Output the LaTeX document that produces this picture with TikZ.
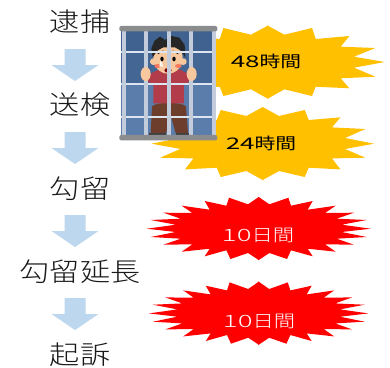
\documentclass[tikz,border=0pt]{standalone}
\usepackage{fontspec}
\setmainfont{Noto Sans CJK JP}
\newfontfamily\stagecjk[FakeStretch=1.16]{Noto Sans CJK JP Light}
\newfontfamily\goldcjk[FakeStretch=1.3]{Noto Sans CJK JP}
\newfontfamily\redcjk[FakeStretch=1.25]{Noto Sans CJK JP Light}
\definecolor{burstgold}{HTML}{FFC000}
\definecolor{burstred}{HTML}{FF0000}
\definecolor{flowblue}{HTML}{BDD7EE}
\definecolor{pane}{HTML}{3F6290}
\definecolor{panelow}{HTML}{5A7DAC}
\definecolor{rail}{HTML}{C3CCDA}
\definecolor{crossbar}{HTML}{DDE5F0}
\definecolor{capbar}{HTML}{8A8C8E}
\definecolor{skin}{HTML}{F7C89E}
\definecolor{shirt}{HTML}{B23C4A}
\definecolor{trousers}{HTML}{6E3E2C}
\tikzset{
  x=1pt, y=-1pt,
  stage/.style={font=\stagecjk\fontsize{26}{26}\selectfont, text=black!90, inner sep=0pt},
  gold label/.style={font=\goldcjk\fontsize{16}{16}\selectfont, text=black, inner sep=0pt},
  red label/.style={font=\redcjk\fontsize{17}{17}\selectfont, text=white, inner sep=0pt},
  flowarrow/.pic={
    \fill[flowblue] (-10.5,0)--(10.5,0)--(10.5,16)--(23.5,16)--(0,32)--(-23.5,16)--(-10.5,16)--cycle;
  }
}
% Half outlines of the bursts, mirrored about their vertical axis
\newcommand{\goldtop}{(-.5,-36.3)--(0,-36.3)--(16.7,-27.3)--(44.3,-34)--(48,-23)--(81.7,-26)--(73,-15.3)--(107.7,-14)--(86.3,-5.3)--(117,0)--(86.3,5.7)--(107.7,14.7)--(73,16.3)--(81.7,26.3)--(48,24.7)--(44.3,34)--(16.7,27.3)--(0,36.7)--(-.5,36.7)--cycle}
\newcommand{\goldlow}{(-.5,-36.7)--(0,-36.7)--(16.3,-27.7)--(42,-33.7)--(46,-23.7)--(77.7,-26.3)--(69.3,-16.3)--(102.7,-14.7)--(82.3,-5.7)--(111.3,0)--(82.3,5.3)--(102.7,14)--(69.3,14.7)--(77.7,25.7)--(46,24)--(42,33.3)--(16.3,27.3)--(0,36.3)--(-.5,36.3)--cycle}
\newcommand{\redburst}{(-.5,-31)--(0,-31)--(10.7,-23.7)--(29.7,-30.3)--(32.3,-22.3)--(54,-27)--(49,-18.3)--(77,-22.3)--(66.3,-15)--(95.3,-15.3)--(78,-9.3)--(108,-8)--(83,-3.3)--(112,.7)--(83,4)--(108,9)--(78,10.7)--(95.3,16.7)--(66.3,16.3)--(77,23.7)--(49,20.7)--(54,28.3)--(32.3,22.3)--(28.3,31)--(10.7,25)--(0,32)--(-.5,32)--cycle}
\begin{document}
\begin{tikzpicture}
\useasboundingbox (0,0) rectangle (390,367);
\fill[white] (0,0) rectangle (390,367);

% Stages of the procedure
\node[stage] (arrest) at (80,22) {逮捕};
\node[stage] (referral) at (80,105) {送検};
\node[stage] (detention) at (80,189) {勾留};
\node[stage] (extension) at (80,272) {勾留延長};
\node[stage] (indictment) at (80,355) {起訴};
\pic at (75,49) {flowarrow};
\pic at (75,132) {flowarrow};
\pic at (75,215) {flowarrow};
\pic at (75,298) {flowarrow};

% Bursts showing the time limits
\foreach \s in {1,-1}{
  \fill[burstgold,shift={(267.7,62)},xscale=\s] \goldtop;
  \fill[burstgold,shift={(262.7,143.7)},xscale=\s] \goldlow;
  \fill[burstred,shift={(258.7,228)},xscale=\s] \redburst;
  \fill[burstred,shift={(258.7,312.7)},xscale=.98*\s] \redburst;
}

% Man behind the bars, drawn in a 3:1 local grid
\begin{scope}[shift={(110,0)},x=.3333pt,y=-.3333pt]
  \fill[pane] (34,90) rectangle (316,408);
  \fill[panelow] (34,256) rectangle (316,408);
  \fill[pane!85!panelow] (34,158) rectangle (316,248);
  % legs and shoes
  \fill[trousers] (126,320) .. controls (130,305) and (222,305) .. (228,320) -- (234,400) -- (197,400) -- (182,345) -- (168,400) -- (122,400) -- cycle;
  \fill[black!75] (118,398) rectangle (168,405);
  \fill[black!75] (197,398) rectangle (238,405);
  % torso and arms
  \fill[shirt] (100,232) -- (148,208) -- (208,208) -- (255,232) -- (240,246) -- (222,250) -- (222,310) -- (130,310) -- (130,250) -- (112,246) -- cycle;
  % head
  \fill[skin] (174,175) ellipse (44 and 46);
  \fill[skin] (130,185) circle (10);
  \fill[skin] (220,185) circle (10);
  % hair
  \fill[black!85] (128,172) -- (124,145) -- (134,122) -- (150,110) -- (165,120) -- (185,108) -- (208,113) -- (224,135) -- (226,172) -- (212,152) -- (195,142) -- (160,142) -- (142,152) -- cycle;
  % eyes, mouth, tear
  \fill[black] (156,177) ellipse (5 and 7);
  \fill[black] (192,177) ellipse (5 and 7);
  \draw[black,line width=.6pt] (143,162) -- (160,152) (205,162) -- (188,152);
  \fill[red!50!black] (174,211) ellipse (11 and 7);
  \fill[skin!60!red] (143,198) ellipse (10 and 6);
  \fill[skin!60!red] (205,198) ellipse (10 and 6);
  % horizontal bars
  \fill[crossbar] (34,152) rectangle (316,158);
  \fill[crossbar] (34,248) rectangle (316,256);
  \fill[crossbar] (34,348) rectangle (316,354);
  % uprights
  \foreach \u in {36,103,170,238,305}
    \fill[rail] (\u,90) rectangle ++(12,318);
  \fill[skin] (107,222) ellipse (15 and 21);
  \fill[skin] (245,222) ellipse (15 and 21);
  \fill[white!85!skin] (152,180) -- (160,200) -- (148,200) -- cycle;
  % top and bottom caps
  \fill[capbar,rounded corners=2pt] (28,78) rectangle (322,94);
  \fill[capbar,rounded corners=2pt] (28,405) rectangle (322,421);
\end{scope}

% Time limit labels
\node[gold label] (h48) at (266,61) {\scalebox{1.25}[1]{48}時間};
\node[gold label] (h24) at (261,143) {\scalebox{1.25}[1]{24}時間};
\node[red label] (d10a) at (258,235) {\scalebox{1.3}[1]{10}日間};
\node[red label] (d10b) at (259,321) {\scalebox{1.3}[1]{10}日間};
\end{tikzpicture}
\end{document}
